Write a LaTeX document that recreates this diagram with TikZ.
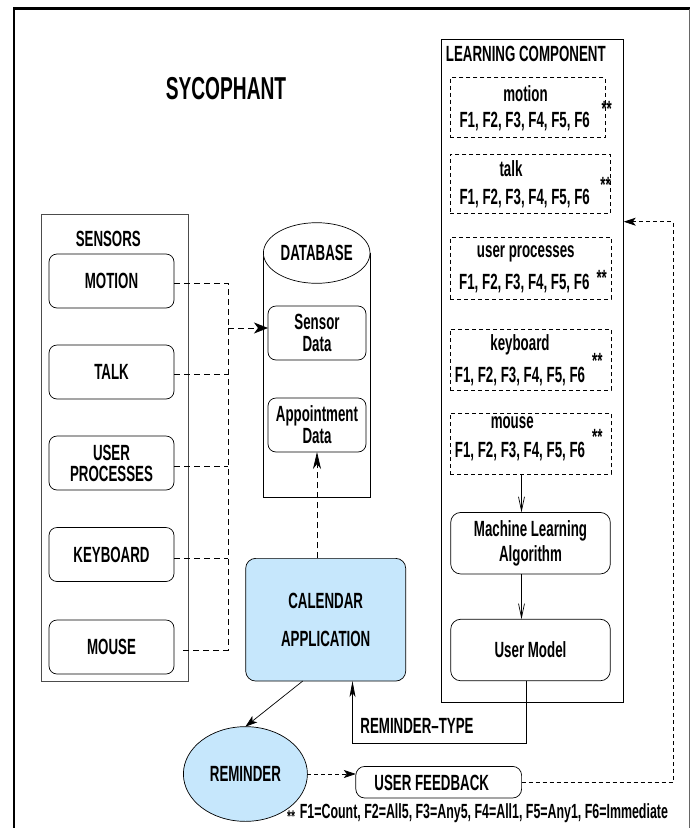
\documentclass[tikz,border=0pt]{standalone}
\usepackage{fontspec}
\usetikzlibrary{arrows.meta,shapes.geometric}
\newfontfamily\dgfam{Liberation Sans}[FakeStretch=0.605]
\newcommand\dgf{\dgfam\bfseries\fontsize{22}{22}\selectfont}
\newcommand\dgbig{\dgfam\bfseries\fontsize{31.7}{32}\selectfont}
\newcommand\dgfoot{\dgfam\bfseries\fontsize{20.5}{21}\selectfont}
\newcommand\dgsmall{\dgfam\bfseries\fontsize{17}{17}\selectfont}
\definecolor{lblue}{RGB}{198,231,252}
\begin{document}
\begin{tikzpicture}[x=1pt,y=-1pt,line width=0.7pt,
  every node/.style={font=\dgf,inner sep=0pt,outer sep=0pt},
  rbox/.style={draw,rounded corners=8pt,align=center},
  fbox/.style={draw,dash pattern=on 4pt off 3pt,minimum width=161pt,minimum height=61pt},
  dshA/.style={dash pattern=on 6pt off 4pt},
  dshB/.style={dash pattern=on 4pt off 3pt},
  sbox/.style={rbox,minimum width=125pt,minimum height=54pt},
  dbox/.style={rbox,minimum width=98pt,minimum height=54pt},
  lbox/.style={rbox,rounded corners=10pt,minimum width=159.6pt,minimum height=61.5pt},
  harr/.style={-{Stealth[length=12pt,width=8pt,inset=3pt]}},
  oarr/.style={-{Straight Barb[length=14pt,width=6pt]}}]
\useasboundingbox (0,0) rectangle (690,828);
% frame
\draw[line width=2.7pt] (14,828) -- (14,8.7) -- (690,8.7);
\draw[line width=0.6pt,black!60] (689.3,8.7) -- (689.3,828);
\node[font=\dgbig] (title) at (226,88.7) {SYCOPHANT};
% sensors
\node[draw=black!70,line width=0.6pt,minimum width=147pt,minimum height=467pt] (sc) at (114.5,447.5) {};
\node (sct) at (108.3,238.5) {SENSORS};
\node[sbox] (m) at (111.5,281) {MOTION};
\node[sbox] (t) at (111.5,372) {TALK};
\node[sbox] (u) at (111.5,463) {USER\\[-1pt]PROCESSES};
\node[sbox] (k) at (111.5,554.5) {KEYBOARD};
\node[sbox] (mo) at (111.5,647) {MOUSE};
% database
\draw (316.7,253) ++(53.3,0) -- ++(0,244.3) -- ++(-106.6,0) -- ++(0,-244.3);
\node[ellipse,draw,fill=white,minimum width=106.6pt,minimum height=60.6pt] (db) at (316.7,253) {DATABASE};
\node[dbox] (sd) at (317,333) {Sensor\\Data};
\node[dbox] (ad) at (317,425) {Appointment\\Data};
% sensor bus
\coordinate (jt) at (228,283);
\coordinate (jb) at (228,650);
\coordinate (js) at (228,328);
\draw[dshA] (m.east |- jt) -- (jt) -- (jb) -- ([xshift=6pt]mo.east |- jb);
\draw[dshA] (t.east |- 0,374) -- (jt |- 0,374);
\draw[dshA] (u.east |- 0,466) -- (jt |- 0,466);
\draw[dshA] (k.east |- 0,558) -- (jt |- 0,558);
\draw[dshA,-{Stealth[length=14pt,width=11pt,inset=4pt]}] (js) -- (js -| sd.west);
% calendar
\node[rbox,rounded corners=10pt,fill=lblue,minimum width=160pt,minimum height=122.7pt] (cal) at (325.7,619.7) {CALENDAR\\[16pt]APPLICATION};
\draw[dshA,-{Stealth[length=17pt,width=8pt,inset=5pt]}] (ad.south |- cal.north) -- (ad.south);
% reminder
\node[ellipse,draw,fill=lblue,minimum width=124pt,minimum height=94.7pt] (rem) at (245.4,774) {REMINDER};
\draw[harr] ([xshift=-23pt]cal.south) -- (rem.north);
\node[draw,rounded corners=9pt,minimum width=165.8pt,minimum height=31.6pt] (uf) at (438.7,782.2) {};
\node (uft) at (431.7,782.5) {USER FEEDBACK};
\draw[dshB,harr] (rem.east) -- (rem.east -| uf.west);
% learning component
\node[draw,minimum width=182pt,minimum height=663.4pt] (lc) at (532.7,371) {};
\node (lct) at (525.8,54.3) {LEARNING COMPONENT};
\node[fbox,minimum width=155pt,minimum height=60pt] (fb1) at (527.8,107.7) {};
\node (fb1a) at (525.5,93.3) {motion};
\node (fb1b) at (524.7,121.7) {F1, F2, F3, F4, F5, F6};
\node (fb1c) at (606.7,108.8) {**};
\node[fbox,minimum width=160.4pt,minimum height=59.3pt] (fb2) at (530.5,183.7) {};
\node (fb2a) at (511,169) {talk};
\node (fb2b) at (524.7,198.3) {F1, F2, F3, F4, F5, F6};
\node (fb2c) at (605.5,184.5) {**};
\node[fbox,minimum height=61.7pt] (fb3) at (530.5,268.2) {};
\node (fb3a) at (525.8,254) {user processes};
\node (fb3b) at (524.3,283.3) {F1, F2, F3, F4, F5, F6};
\node (fb3c) at (601.7,277.8) {**};
\node[fbox] (fb4) at (530.5,359.8) {};
\node (fb4a) at (520,345) {keyboard};
\node (fb4b) at (520,376.7) {F1, F2, F3, F4, F5, F6};
\node (fb4c) at (597.3,361.2) {**};
\node[fbox] (fb5) at (530.5,443.8) {};
\node (fb5a) at (512.2,422.7) {mouse};
\node (fb5b) at (520,451.7) {F1, F2, F3, F4, F5, F6};
\node (fb5c) at (597.3,437.2) {**};
\node[lbox] (ml) at (530.5,543.2) {Machine Learning\\[3pt]Algorithm};
\node[lbox] (um) at (530.5,650) {User Model};
\draw[oarr] (fb5.south -| 521.5,0) -- (ml.north -| 521.5,0);
\draw[oarr] (ml.south -| 521.5,0) -- (um.north -| 521.5,0);
% reminder type
\coordinate (rt) at (352.5,743);
\draw[-{Stealth[length=16pt,width=6pt,inset=4pt]}] ([xshift=-4.5pt]um.south) |- (rt) -- (rt |- cal.south);
\node (rtt) at (417,726) {REMINDER–TYPE};
% feedback loop
\coordinate (fr) at (673,782.2);
\coordinate (ft) at (673,221.7);
\draw[dshB,harr] (uf.east) -- (fr) -- (ft) -- (ft -| lc.east);
% footnote
\node[font=\dgsmall] (fst) at (291,817) {**};
\node[font=\dgfoot] (fn) at (483.9,813) {F1=Count, F2=All5, F3=Any5, F4=All1, F5=Any1, F6=Immediate};
\end{tikzpicture}
\end{document}
